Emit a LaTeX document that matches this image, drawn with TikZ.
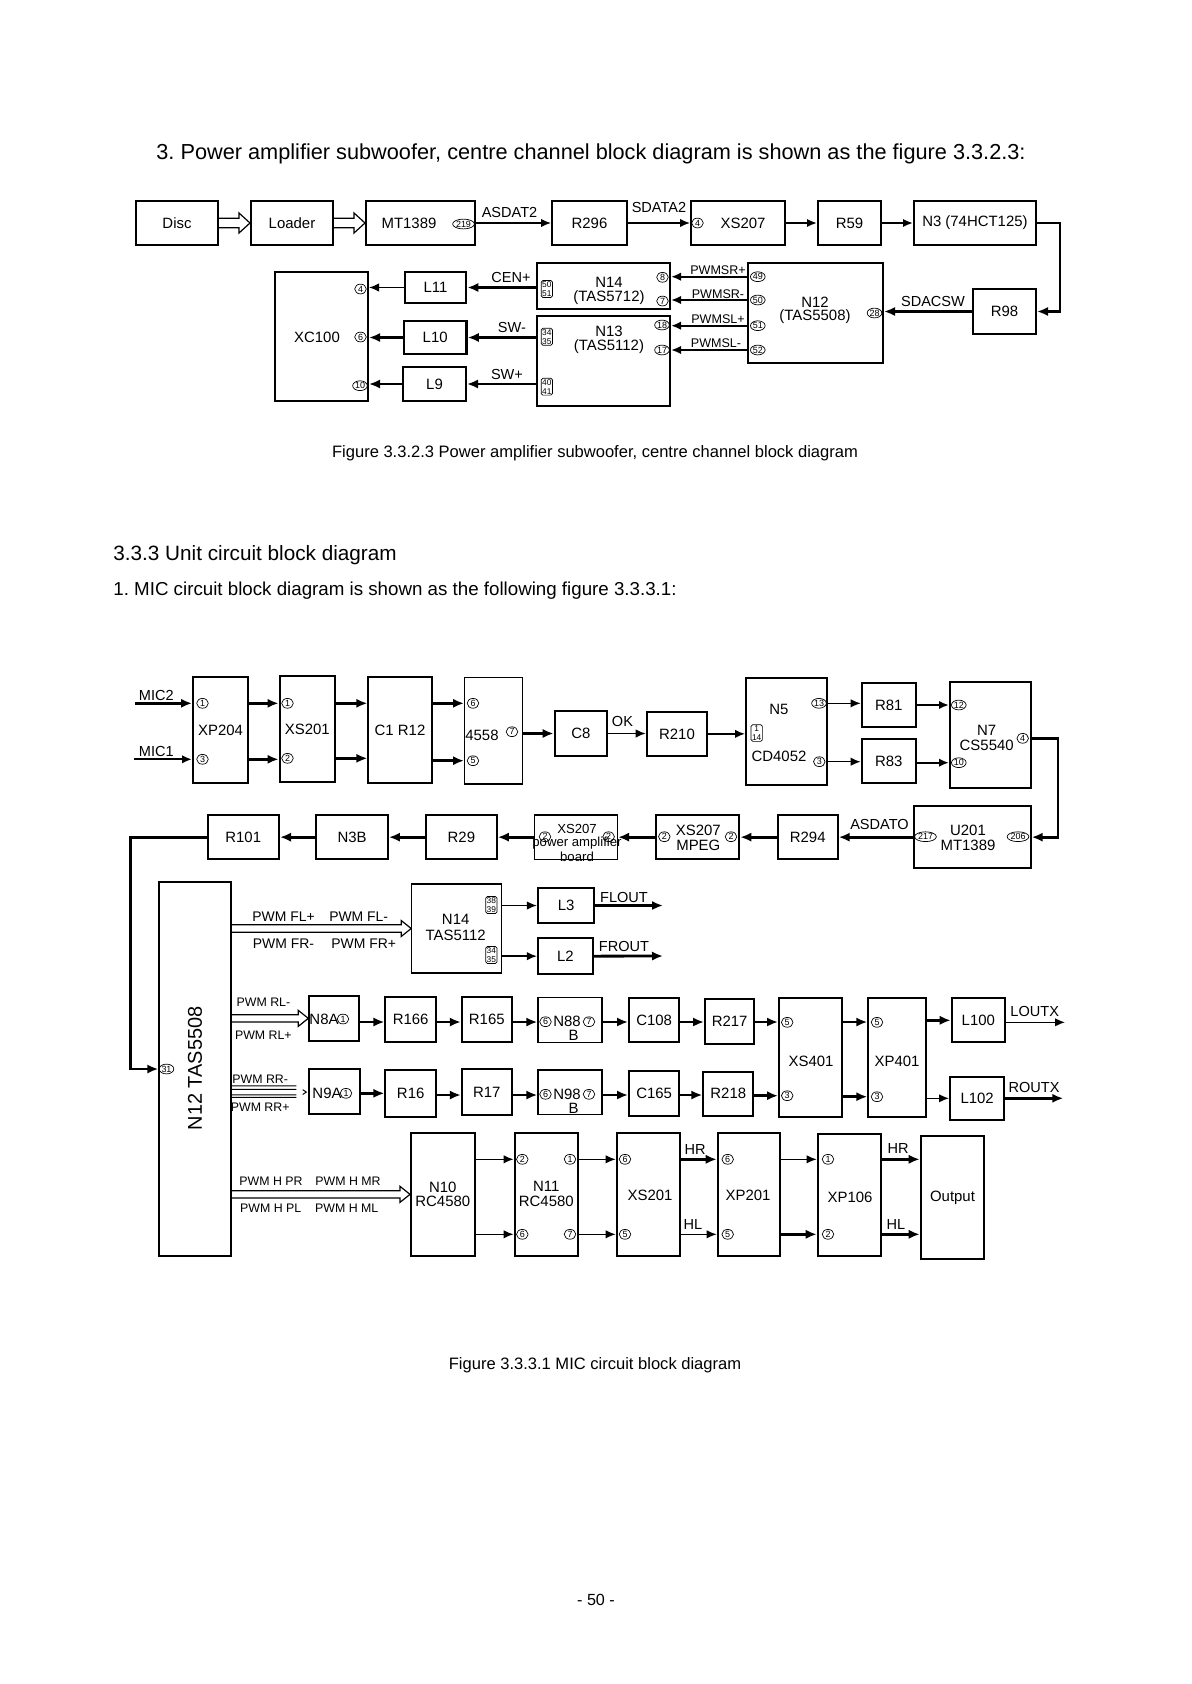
\documentclass[tikz,border=0pt]{standalone}
\usepackage{fontspec}
\setmainfont{Liberation Sans}
\usetikzlibrary{arrows.meta,calc,fit,shapes.geometric}
\newcommand\fs[1]{\fontsize{#1}{#1}\selectfont}
\newcommand\mybox[7][]{\node[blk,#1,fit={(#3,#4) (#5,#6)}] (#2) {}; \node[bt,align=center] (#2lab) at (#2.center) {#7};}
\newcommand\hol[5]{\draw[line width=0.6bp,line join=miter] let \p1=(#1.east), \p2=(#2.west) in (\x1,\y2+#3) -- (\x2-#5,\y2+#3) -- (\x2-#5,\y2+#4) -- (\x2,\y2) -- (\x2-#5,\y2-#4) -- (\x2-#5,\y2-#3) -- (\x1,\y2-#3);}
\tikzset{
 blk/.style={draw, line width=1bp, inner sep=0pt},
 thinb/.style={line width=0.6bp},
 bt/.style={inner sep=0pt, font=\fs{7.5}},
 pc/.style={draw, ellipse, line width=0.35bp, inner sep=0.1bp, minimum width=5.8bp, minimum height=4.9bp, font=\fs{4.5}},
 pbx/.style={draw, rounded corners=0.8bp, line width=0.35bp, inner sep=0.5bp, align=center, font=\fontsize{4.2}{4.5}\selectfont},
 sig/.style={inner sep=0pt, font=\fs{7.3}},
 sg/.style={inner sep=0pt, font=\fs{6.3}},
 ar/.style={line width=0.7bp, -{Latex[length=5bp,width=4.2bp]}},
 am/.style={line width=1bp, -{Latex[length=5bp,width=4.2bp]}},
 aT/.style={line width=1.4bp, -{Latex[length=5.5bp,width=4.6bp]}},
}
\begin{document}
\frenchspacing
\begin{tikzpicture}[x=0.5bp,y=-0.5bp]
\fill[white] (0,0) rectangle (1192,1684);
\useasboundingbox (0,0) rectangle (1192,1684);
% ---------- page texts
\node[anchor=mid west, inner sep=0, font=\fs{10.9}] (title) at (156,154) {3. Power amplifier subwoofer, centre channel block diagram is shown as the figure 3.3.2.3:};
\node[anchor=mid, inner sep=0, font=\fs{8.3}] (cap1) at (595,452) {Figure 3.3.2.3 Power amplifier subwoofer, centre channel block diagram};
\node[anchor=mid west, inner sep=0, font=\fs{10.4}] (sec) at (113,555) {3.3.3 Unit circuit block diagram};
\node[anchor=mid west, inner sep=0, font=\fs{9.4}] (sub) at (113,590.6) {1. MIC circuit block diagram is shown as the following figure 3.3.3.1:};
\node[anchor=mid, inner sep=0, font=\fs{8.3}] (cap2) at (595,1364) {Figure 3.3.3.1 MIC circuit block diagram};
\node[anchor=mid, inner sep=0, font=\fs{8.1}] (page) at (596,1600) {- 50 -};
% ---------- top diagram
\mybox{disc}{136}{201}{218}{245}{Disc}
\mybox{loader}{251}{201}{333}{245}{Loader}
\mybox{mt}{366}{201}{475}{245}{}
\node[bt] (mtT) at (409,223) {MT1389};
\node[pc] (mtP) at (463.5,224) {219};
\mybox{r296}{552}{201}{627}{245}{R296}
\mybox{xsa}{691}{201}{785}{245}{}
\node[bt] (xsaT) at (743,223) {XS207};
\node[pc] (xsaP) at (697.5,223) {4};
\mybox{r59}{818}{201}{881}{245}{R59}
\mybox{nthree}{914}{201}{1036}{245}{N3\hspace{2bp}(74HCT125)}
\mybox{r98}{973}{289}{1036}{334}{R98}
\mybox{ntwa}{748}{263}{883}{363}{}
\node[bt] (ntwaT1) at (815,302) {N12};
\node[bt] (ntwaT2) at (815,317) {(TAS5508)};
\node[pc] (np49) at (757.8,276.7) {49};
\node[pc] (np50) at (757.8,300) {50};
\node[pc] (np51) at (757.8,325.7) {51};
\node[pc] (np52) at (757.8,350) {52};
\node[pc] (np28) at (874.5,313) {28};
\mybox{nfa}{537}{263}{670}{309}{}
\node[bt] (nfaT1) at (609,282.7) {N14};
\node[bt] (nfaT2) at (609,298) {(TAS5712)};
\node[pbx] (nfaP) at (546.8,289) {50\\51};
\node[pc] (nfa8) at (662.5,277.3) {8};
\node[pc] (nfa7) at (662.5,301) {7};
\mybox{nta}{537}{316}{670}{406}{}
\node[bt] (ntaT1) at (609,331.7) {N13};
\node[bt] (ntaT2) at (609,346.7) {(TAS5112)};
\node[pbx] (ntaP1) at (546.8,336.7) {34\\35};
\node[pbx] (ntaP2) at (546.8,386.7) {40\\41};
\node[pc] (nta18) at (662,325) {18};
\node[pc] (nta17) at (662,350) {17};
\mybox{xc}{275}{272}{368}{401}{}
\node[bt] (xcT) at (317,337) {XC100};
\node[pc] (xc4) at (360.5,289) {4};
\node[pc] (xc6) at (360.5,337) {6};
\node[pc] (xc10) at (360,385.7) {10};
\mybox{l11}{404.6}{272}{466.4}{303}{L11}
\mybox[line width=1.4bp]{l10}{404}{321}{466.4}{354}{L10}
\mybox{l9}{403}{367}{466}{401}{L9}
% top connectors
\hol{disc}{loader}{2.4bp}{5bp}{5.5bp}
\hol{loader}{mt}{2.4bp}{5bp}{5.5bp}
\draw[ar] (mt.east) -- (r296.west);
\node[sig] (lasdat) at (509.5,212) {ASDAT2};
\draw[ar] (r296.east) -- (xsa.west);
\node[sig] (lsdata) at (659,207.3) {SDATA2};
\draw[am] (xsa.east) -- (r59.west);
\draw[am] (r59.east) -- (nthree.west);
\draw[aT] (nthree.east) -- ++(23,0) |- (r98.east);
\draw[aT] (r98.west) -- (ntwa.east |- r98.west);
\node[sig] (lsdacsw) at (933,301.7) {SDACSW};
\draw[am] (ntwa.west |- np49) -- (nfa.east |- np49);
\draw[am] (ntwa.west |- np50) -- (nfa.east |- np50);
\draw[am] (ntwa.west |- np51) -- (nta.east |- np51);
\draw[am] (ntwa.west |- np52) -- (nta.east |- np52);
\node[sg] (lsrp) at (718,270) {PWMSR+};
\node[sg] (lsrm) at (718,294) {PWMSR-};
\node[sg] (lslp) at (718,319.3) {PWMSL+};
\node[sg] (lslm) at (716,343.3) {PWMSL-};
\draw[aT] (nfa.west |- l11.east) -- (l11.east);
\node[sig] (lcen) at (511,277) {CEN+};
\draw[ar] (l11.west) -- (xc.east |- l11.west);
\draw[aT] (nta.west |- l10.east) -- (l10.east);
\node[sig] (lswm) at (512,327) {SW-};
\draw[aT] (l10.west) -- (xc.east |- l10.west);
\draw[aT] (nta.west |- l9.east) -- (l9.east);
\node[sig] (lswp) at (507,374) {SW+};
\draw[aT] (l9.west) -- (xc.east |- l9.west);
% ---------- MIC diagram
\coordinate (mic2s) at (135,703.3);
\coordinate (mic1s) at (134,759.3);
\mybox{xp204}{193}{677}{248}{783}{XP204}
\node[pc] (xp204a) at (202.5,703.3) {1};
\node[pc] (xp204b) at (202.5,759.3) {3};
\mybox{xs201}{279.6}{675.7}{335}{782.3}{XS201}
\node[pc] (xs201a) at (287.5,703.3) {1};
\node[pc] (xs201b) at (287.5,758.3) {2};
\mybox[thinb]{c1r12}{368}{677}{432}{783}{C1 R12}
\mybox[thinb]{ic}{464.6}{677.7}{522.5}{784}{}
\node[bt] (icT) at (482,735) {4558};
\node[pc] (ic6) at (473,703.3) {6};
\node[pc] (ic5) at (473,760.7) {5};
\node[pc] (ic7) at (512,731.7) {7};
\mybox{c8}{554.6}{711}{607}{756}{C8}
\mybox{r210}{646.7}{711.7}{707.3}{756}{R210}
\mybox{n5}{746}{678.3}{827.3}{785}{}
\node[bt] (n5T1) at (779,709) {N5};
\node[bt] (n5T2) at (779,756) {CD4052};
\node[pbx] (n5P) at (756.7,733) {1\\14};
\node[pc] (n5p13) at (819,703.3) {13};
\node[pc] (n5p3) at (819.3,761.7) {3};
\mybox{r81}{861.7}{682.7}{916}{727.3}{R81}
\mybox{r83}{861.7}{739}{916}{783.3}{R83}
\mybox{n7}{950}{681.7}{1031}{788.3}{}
\node[bt] (n7T1) at (986.7,730) {N7};
\node[bt] (n7T2) at (986.7,745) {CS5540};
\node[pc] (n7p12) at (958.8,705) {12};
\node[pc] (n7p10) at (958.8,762.7) {10};
\node[pc] (n7p4) at (1022.7,738.3) {4};
\mybox{u201}{914}{806}{1030.7}{868.3}{}
\node[bt] (u201T1) at (968,830) {U201};
\node[bt] (u201T2) at (968,845) {MT1389};
\node[pc] (u201a) at (925.5,836.7) {217};
\node[pc] (u201b) at (1018,836.7) {206};
\mybox{r294}{777.7}{815}{837.7}{859.3}{R294}
\mybox{xsm}{656}{815}{739.3}{859.3}{}
\node[bt] (xsmT1) at (698.3,830) {XS207};
\node[bt] (xsmT2) at (698.3,845) {MPEG};
\node[pc] (xsma) at (664.3,836.7) {2};
\node[pc] (xsmb) at (731,836.7) {2};
\mybox[thinb]{xsp}{534.3}{815}{617.5}{859.3}{}
\node[inner sep=0pt,font=\fs{6.6}] (xspT1) at (577,829.3) {XS207};
\node[inner sep=0pt,font=\fs{6.6}] (xspT2) at (577,843.3) {power amplifier};
\node[inner sep=0pt,font=\fs{6.6}] (xspT3) at (577,856.7) {board};
\node[pc] (xspa) at (545,836.7) {2};
\node[pc] (xspb) at (608.6,836.7) {2};
\mybox{r29}{426}{815}{496.8}{859.3}{R29}
\mybox{n3b}{316.4}{815}{387.9}{859.3}{N3B}
\mybox{r101}{207.5}{815}{279}{859.3}{R101}
\mybox{n12b}{159.3}{881.7}{230.7}{1256}{}
\node[rotate=90,inner sep=0pt,font=\fs{10}] (n12bT) at (195,1068.5) {N12 TAS5508};
\node[pc] (n12b31) at (166.5,1069) {31};
% MIC connectors
\draw[aT] (mic2s) -- (xp204.west |- mic2s);
\node[sig] (lmic2) at (156.3,695) {MIC2};
\draw[am] (mic1s) -- (xp204.west |- mic1s);
\node[sig] (lmic1) at (156.3,751.7) {MIC1};
\draw[aT] (xp204.east |- xp204a) -- (xs201.west |- xp204a);
\draw[aT] (xp204.east |- xp204b) -- (xs201.west |- xp204b);
\draw[aT] (xs201.east |- xs201a) -- (c1r12.west |- xs201a);
\draw[aT] (xs201.east |- xs201b) -- (c1r12.west |- xs201b);
\draw[aT] (c1r12.east |- ic6) -- (ic.west |- ic6);
\draw[aT] (c1r12.east |- ic5) -- (ic.west |- ic5);
\draw[aT] (ic.east |- c8.west) -- (c8.west);
\draw[ar] (c8.east) -- (r210.west |- c8.east);
\node[sig] (lok) at (622.5,721.7) {OK};
\draw[ar] (r210.east) -- (n5.west |- r210.east);
\draw[ar] (n5.east |- n5p13) -- (r81.west |- n5p13);
\draw[ar] (n5.east |- n5p3) -- (r83.west |- n5p3);
\draw[am] (r81.east |- n7p12) -- (n7.west |- n7p12);
\draw[am] (r83.east |- n7p10) -- (n7.west |- n7p10);
\draw[aT] (n7.east |- n7p4) -- ++(26,0) |- (u201.east);
\draw[aT] (u201.west) -- (r294.east |- u201.west);
\node[sig] (lasdato) at (879.5,824) {ASDATO};
\draw[aT] (r294.west) -- (xsm.east |- r294.west);
\draw[aT] (xsm.west) -- (xsp.east |- xsm.west);
\draw[aT] (xsp.west) -- (r29.east |- xsp.west);
\draw[aT] (r29.west) -- (n3b.east |- r29.west);
\draw[aT] (n3b.west) -- (r101.east |- n3b.west);
\draw[aT] (r101.west) -- ++(-75.7,0) |- (n12b.west |- n12b31);
% front channel
\mybox[thinb]{n14b}{411.8}{884}{501.4}{973}{}
\node[bt] (n14bT1) at (455.7,919) {N14};
\node[bt] (n14bT2) at (455.7,935) {TAS5112};
\node[pbx] (n14bP1) at (491.4,905) {38\\39};
\node[pbx] (n14bP2) at (491.4,955) {34\\35};
\mybox{l3}{537.9}{887.7}{594.3}{923.3}{L3}
\mybox{l2}{537.9}{938.3}{593}{974}{L2}
\coordinate (flout) at (663,905.5);
\coordinate (frout) at (663,956);
\hol{n12b}{n14b}{1.85bp}{4bp}{5bp}
\node[inner sep=0pt,font=\fs{7}] (lfl1) at (283.5,917) {PWM FL+};
\node[inner sep=0pt,font=\fs{7}] (lfl2) at (358.7,917) {PWM FL-};
\node[inner sep=0pt,font=\fs{7}] (lfr1) at (283.5,944) {PWM FR-};
\node[inner sep=0pt,font=\fs{7}] (lfr2) at (363.7,944) {PWM FR+};
\draw[ar] (n14b.east |- l3.west) -- (l3.west);
\draw[ar] (n14b.east |- l2.west) -- (l2.west);
\draw[aT] (l3.east) -- (flout);
\draw[aT] (l2.east) -- (frout);
\node[sig] (lflout) at (624,897.3) {FLOUT};
\node[sig] (lfrout) at (624,946.7) {FROUT};
% rear rows
\coordinate (yRL) at (0,1022);
\coordinate (yRR) at (0,1095);
\mybox{n8a}{309.3}{995.7}{359.3}{1041}{}
\node[bt] (n8aT) at (324,1019) {N8A};
\node[pc] (n8a1) at (343,1019) {1};
\mybox{r166}{385.4}{997.3}{436}{1042.3}{R166}
\mybox{r165}{461.8}{997.3}{511.8}{1042.3}{R165}
\mybox[thinb]{n88}{537.9}{997.3}{602}{1042.3}{}
\node[bt] (n88T1) at (567,1021.7) {N88};
\node[bt] (n88T2) at (573.6,1035) {B};
\node[pc] (n886) at (545.5,1021.7) {6};
\node[pc] (n887) at (589,1021.7) {7};
\mybox{c108}{629}{997.7}{679.3}{1042.3}{C108}
\mybox{r217}{705}{999.3}{754.3}{1044}{R217}
\mybox{xs401}{779}{997.7}{842.3}{1116.7}{}
\node[bt] (xs401T) at (811,1061) {XS401};
\node[pc] (xs4015) at (787.2,1022.3) {5};
\node[pc] (xs4013) at (787.2,1095.7) {3};
\mybox{xp401}{868.3}{997.7}{925.7}{1116.7}{}
\node[bt] (xp401T) at (897,1061.7) {XP401};
\node[pc] (xp4015) at (877,1022.3) {5};
\node[pc] (xp4013) at (877,1096.7) {3};
\mybox{l100}{951.7}{998.3}{1005}{1042.3}{L100}
\mybox{l102}{950}{1076.7}{1004.3}{1120}{L102}
\coordinate (loutx) at (1065,1022.3);
\coordinate (routx) at (1063.3,1098.3);
\mybox{n9a}{309.3}{1069.3}{360.4}{1113.6}{}
\node[bt] (n9aT) at (327,1093.3) {N9A};
\node[pc] (n9a1) at (346,1093.3) {1};
\mybox{r16}{385.4}{1070}{436}{1116.9}{R16}
\mybox{r17}{461.8}{1069.3}{511.8}{1114.7}{R17}
\mybox[thinb]{n98}{537.9}{1070}{602}{1114.7}{}
\node[bt] (n98T1) at (567,1094.3) {N98};
\node[bt] (n98T2) at (573.6,1108.3) {B};
\node[pc] (n986) at (545.5,1094.3) {6};
\node[pc] (n987) at (589,1094.3) {7};
\mybox{c165}{629}{1070.7}{679.3}{1116}{C165}
\mybox{r218}{703.3}{1071.7}{753.3}{1115.7}{R218}
\hol{n12b}{n8a}{1.85bp}{4bp}{5bp}
\node[inner sep=0pt,font=\fs{6.2}] (lrl1) at (263.4,1002.7) {PWM RL-};
\node[inner sep=0pt,font=\fs{6.2}] (lrl2) at (263.4,1035) {PWM RL+};
\draw[line width=0.5bp] let \p1=(n12b.east), \p2=(n9a.west) in
 (\x1,\y2+2.75bp) -- (\x2-6bp,\y2+2.75bp)
 (\x1,\y2+1.1bp) -- (\x2-6bp,\y2+1.1bp)
 (\x1,\y2-1.75bp) -- (\x2-6bp,\y2-1.75bp)
 (\x1,\y2-2.9bp) -- (\x2-6bp,\y2-2.9bp)
 (\x2-2.8bp,\y2+0.9bp) -- (\x2-1bp,\y2-0.3bp) -- (\x2-2.8bp,\y2-1.5bp);
\node[inner sep=0pt,font=\fs{6.2}] (lrr1) at (260.2,1079.3) {PWM RR-};
\node[inner sep=0pt,font=\fs{6.2}] (lrr2) at (260.2,1107.7) {PWM RR+};
\draw[aT] (n8a.east |- yRL) -- (r166.west |- yRL);
\draw[aT] (r166.east |- yRL) -- (r165.west |- yRL);
\draw[aT] (r165.east |- yRL) -- (n88.west |- yRL);
\draw[aT] (n88.east |- yRL) -- (c108.west |- yRL);
\draw[aT] (c108.east |- yRL) -- (r217.west |- yRL);
\draw[aT] (r217.east |- yRL) -- (xs401.west |- yRL);
\draw[aT] (xs401.east |- yRL) -- (xp401.west |- yRL);
\draw[aT] (xp401.east |- l100.west) -- (l100.west);
\draw[ar] (l100.east |- loutx) -- (loutx);
\node[sig] (lloutx) at (1034.7,1011) {LOUTX};
\draw[aT] (n9a.east |- n9a1) -- (r16.west |- n9a1);
\draw[aT] (r16.east |- yRR) -- (r17.west |- yRR);
\draw[aT] (r17.east |- yRR) -- (n98.west |- yRR);
\draw[aT] (n98.east |- yRR) -- (c165.west |- yRR);
\draw[aT] (c165.east |- yRR) -- (r218.west |- yRR);
\draw[aT] (r218.east |- xs4013) -- (xs401.west |- xs4013);
\draw[aT] (xs401.east |- xp4013) -- (xp401.west |- xp4013);
\draw[ar] (xp401.east |- routx) -- (l102.west |- routx);
\draw[aT] (l102.east |- routx) -- (routx);
\node[sig] (lroutx) at (1034,1087.3) {ROUTX};
% HR row
\mybox{n10}{411}{1132.7}{474.6}{1256}{N10\\RC4580}
\mybox{n11}{514.6}{1132.7}{578}{1256}{N11\\RC4580}
\node[pc] (n112) at (522.3,1159.3) {2};
\node[pc] (n116) at (522.3,1234.3) {6};
\node[pc] (n111) at (570,1159.3) {1};
\node[pc] (n117) at (570,1234.3) {7};
\mybox{xs201b}{616.7}{1132.7}{680}{1256}{}
\node[bt] (xs201bT) at (650,1195) {XS201};
\node[pc] (xs2016) at (625,1159.3) {6};
\node[pc] (xs2015) at (625,1234.3) {5};
\mybox{xp201}{717.7}{1132.7}{780.3}{1256}{}
\node[bt] (xp201T) at (748,1195) {XP201};
\node[pc] (xp2016) at (727.7,1159.3) {6};
\node[pc] (xp2015) at (727.7,1234.3) {5};
\mybox{xp106}{817.7}{1134}{881}{1256}{}
\node[bt] (xp106T) at (850,1197) {XP106};
\node[pc] (xp1061) at (828,1159.3) {1};
\node[pc] (xp1062) at (828,1234.3) {2};
\mybox{outp}{920.7}{1135.7}{984.3}{1259}{Output}
\hol{n12b}{n10}{1.85bp}{4bp}{5bp}
\node[inner sep=0pt,font=\fs{6.2}] (lh1) at (271,1181) {PWM H PR};
\node[inner sep=0pt,font=\fs{6.2}] (lh2) at (348,1181) {PWM H MR};
\node[inner sep=0pt,font=\fs{6.2}] (lh3) at (270.7,1208) {PWM H PL};
\node[inner sep=0pt,font=\fs{6.2}] (lh4) at (346.8,1208) {PWM H ML};
\draw[ar] (n10.east |- n112) -- (n11.west |- n112);
\draw[ar] (n10.east |- n116) -- (n11.west |- n116);
\draw[ar] (n11.east |- xs2016) -- (xs201b.west |- xs2016);
\draw[ar] (n11.east |- xs2015) -- (xs201b.west |- xs2015);
\draw[aT] (xs201b.east |- xp2016) -- (xp201.west |- xp2016);
\draw[ar] (xs201b.east |- xp2015) -- (xp201.west |- xp2015);
\node[sig] (lhr1) at (695,1149) {HR};
\node[sig] (lhl1) at (693,1224) {HL};
\draw[ar] (xp201.east |- xp1061) -- (xp106.west |- xp1061);
\draw[aT] (xp201.east |- xp1062) -- (xp106.west |- xp1062);
\draw[aT] (xp106.east |- xp1061) -- (outp.west |- xp1061);
\draw[aT] (xp106.east |- xp1062) -- (outp.west |- xp1062);
\node[sig] (lhr2) at (898,1148) {HR};
\node[sig] (lhl2) at (896,1224) {HL};
\end{tikzpicture}
\end{document}
